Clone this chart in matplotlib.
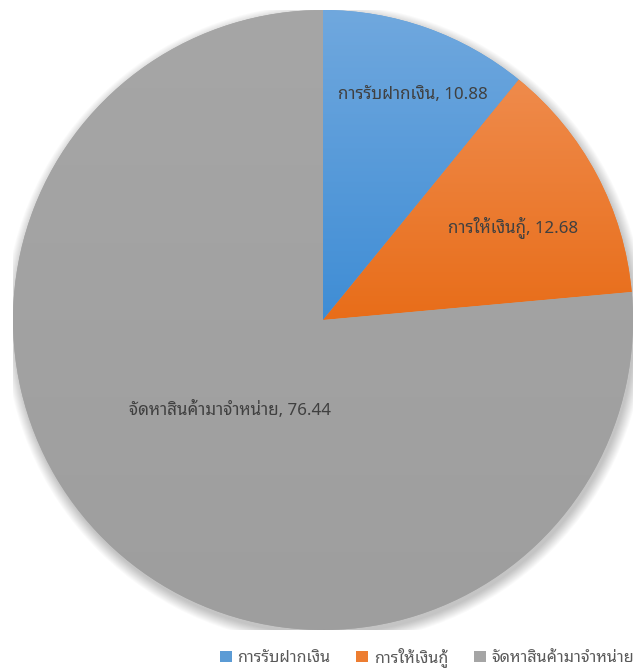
import numpy as np
import matplotlib
matplotlib.use("Agg")
import matplotlib.pyplot as plt
from matplotlib.colors import LinearSegmentedColormap
from matplotlib.patches import Circle, Patch

labels = ["การรับฝากเงิน", "การให้เงินกู้", "จัดหาสินค้ามาจำหน่าย"]
values = [10.88, 12.68, 76.44]
colors = ["#5B9BD5", "#ED7D31", "#A5A5A5"]
top_colors = ["#70A8DE", "#EF8B4C", "#A6A6A6"]
bottom_colors = ["#3F8DD5", "#E86D19", "#9E9E9E"]
# where the data labels sit, in pie units (radius = 1)
label_pos = [(0.29, 0.726), (0.613, 0.30), (-0.30, -0.29)]

thai = ["Noto Sans Thai Looped", "Liberation Sans", "DejaVu Sans"]
plt.rcParams["font.family"] = thai

fig = plt.figure(figsize=(6.43, 6.68), dpi=100)
ax = fig.add_axes([13 / 643, 38 / 668, 620 / 643, 620 / 668])
ax.set_xlim(-1, 1)
ax.set_ylim(-1, 1)
ax.set_aspect("equal")
ax.axis("off")

# soft shadow under the pie
for i in range(12):
    ax.add_patch(Circle((0.006, -0.014), 1.0 + 0.003 * i, color="black",
                        alpha=0.02, lw=0, zorder=0))

wedges, _ = ax.pie(values, colors=colors, startangle=90, counterclock=False,
                   radius=1.0, wedgeprops=dict(linewidth=0))
for w in wedges:
    w.set_zorder(1)

# vertical gradient fill per slice
for w, ct, cb in zip(wedges, top_colors, bottom_colors):
    ext = w.get_path().get_extents()
    cmap = LinearSegmentedColormap.from_list("g", [cb, ct])
    grad = np.linspace(0, 1, 256).reshape(-1, 1)
    im = ax.imshow(grad, cmap=cmap, origin="lower", aspect="auto",
                   extent=[ext.x0, ext.x1, ext.y0, ext.y1], zorder=2)
    im.set_clip_path(w)

ax.set_xlim(-1, 1)
ax.set_ylim(-1, 1)

# data labels
for lab, v, (x, y) in zip(labels, values, label_pos):
    ax.text(x, y, f"{lab}, {v:.2f}", ha="center", va="center",
            fontsize=12.2, color="#404040", zorder=5)

handles = [Patch(facecolor=c, edgecolor="none") for c in colors]
fig.legend(handles, labels, loc="center left", ncol=3,
           bbox_to_anchor=(205 / 643, 11 / 668), frameon=False,
           fontsize=11.6, labelcolor="#595959", handlelength=0.75,
           handleheight=0.75, handletextpad=0.35, columnspacing=1.6)

fig.savefig("out.png", dpi=100)
